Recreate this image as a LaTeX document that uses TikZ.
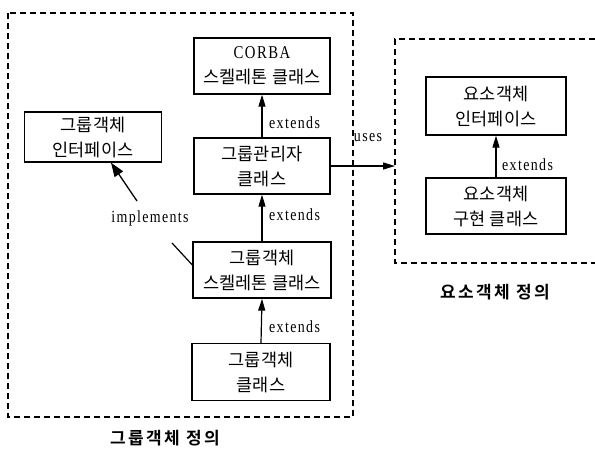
\documentclass[tikz,border=0pt]{standalone}
\usepackage{fontspec}
\usetikzlibrary{arrows.meta,calc}
\newfontfamily\kr{Noto Sans CJK KR}
\newfontfamily\krb{Noto Sans CJK KR}[BoldFont={* Bold},LetterSpace=14]
\newfontfamily\lat{Liberation Serif}[FakeStretch=0.82,LetterSpace=8]
\begin{document}
\begin{tikzpicture}[x=1pt,y=-1pt,
  cls/.style={draw,line width=1.3pt,inner sep=0pt,align=center,
    font=\kr\fontsize{17.5}{25}\selectfont},
  lbl/.style={font=\lat\fontsize{17}{18}\selectfont,inner sep=0pt},
  grp/.style={draw,line width=1.1pt,dash pattern=on 6pt off 4pt},
  grpcaption/.style={font=\krb\bfseries\fontsize{17}{18}\selectfont,inner sep=0pt},
  arr/.style={line width=1.2pt,-{Triangle[length=12pt,width=7pt]}}]
\useasboundingbox (0,0) rectangle (595,453);
% group boxes
\draw[grp] (8,13) rectangle (353,417);
\draw[grp] (595,39) -- (395,39) -- (395,263) -- (595,263);
\node[grpcaption] (capG) at (165,438) {그룹객체 정의};
\node[grpcaption] (capE) at (495,292) {요소객체 정의};
% classes
\node[cls,minimum width=136pt,minimum height=56pt] (corba) at (262,66)
  {{\lat\fontsize{18}{25}\selectfont CORBA}\\스켈레톤 클래스};
\node[cls,minimum width=136pt,minimum height=56pt] (mgr) at (262,166)
  {그룹관리자\\클래스};
\node[cls,minimum width=137pt,minimum height=50pt] (giface) at (93,137)
  {그룹객체\\인터페이스};
\node[cls,minimum width=138pt,minimum height=56pt] (skel) at (262,270)
  {그룹객체\\스켈레톤 클래스};
\node[cls,minimum width=138pt,minimum height=57pt] (gcls) at (261,372)
  {그룹객체\\클래스};
\node[cls,minimum width=140pt,minimum height=58pt] (eiface) at (496,106)
  {요소객체\\인터페이스};
\node[cls,minimum width=140pt,minimum height=56pt] (eimpl) at (496,206)
  {요소객체\\구현 클래스};
% extends arrows
\draw[arr] (mgr.north) -- (corba.south);
\draw[arr] (skel.north) -- (mgr.south);
\draw[arr] (gcls.north) -- (skel.south);
\draw[arr] (eimpl.north) -- (eiface.south);
\node[lbl,anchor=west] (x1) at (269,123) {extends};
\node[lbl,anchor=west] (x2) at (269,215) {extends};
\node[lbl,anchor=west] (x3) at (269,327) {extends};
\node[lbl,anchor=west] (x4) at (502,165) {extends};
% uses
\coordinate (usesEnd) at (395,166);
\draw[arr] (mgr.east) -- (usesEnd);
\node[lbl] (uses) at (368,138) {uses};
% implements
\node[lbl] (impl) at (150,218) {implements};
\coordinate (a1) at (137,201);
\coordinate (a2) at (172,243);
\coordinate (giT) at ([xshift=18pt]giface.south);
\draw[line width=1.3pt,-{Triangle[length=14pt,width=10pt]}] (a1) -- (giT);
\draw[line width=1.2pt] (a2) -- ([yshift=5pt]skel.west);
\end{tikzpicture}
\end{document}
